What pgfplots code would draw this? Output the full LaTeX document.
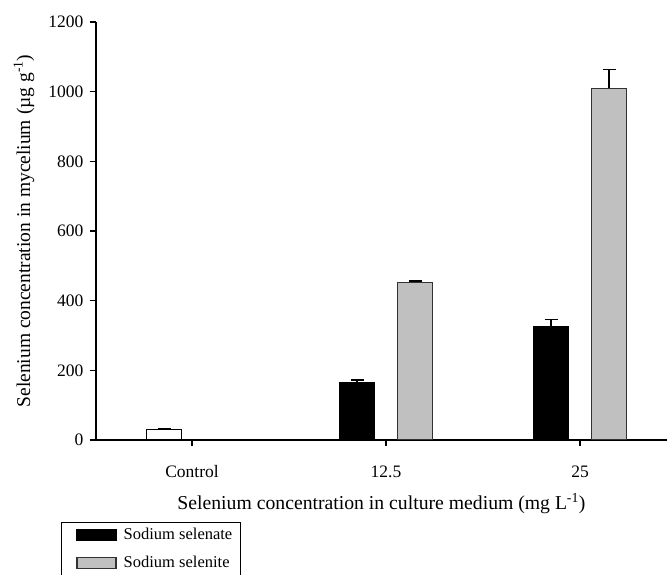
\documentclass[border=0pt]{standalone}
\usepackage{fontspec}
\setmainfont{Liberation Serif}
\usepackage{pgfplots}
\pgfplotsset{compat=1.18}
\definecolor{barGrey}{RGB}{192,192,192}
\definecolor{edgeGrey}{RGB}{50,50,50}
\begin{document}
\begin{tikzpicture}
\begin{axis}[
  scale only axis,
  width=571pt, height=418pt,
  xmin=-0.495, xmax=2.448,
  ymin=0, ymax=1200,
  ytick={0,200,400,600,800,1000,1200},
  xtick={0,1,2},
  xticklabels={Control,12.5,25},
  axis x line*=bottom,
  axis y line*=left,
  tick align=outside,
  major tick length=6pt,
  minor tick num=0,
  axis line style={line width=1.2pt, black},
  tick style={line width=1.2pt, black},
  /pgf/number format/assume math mode=true,
  /pgf/number format/1000 sep={},
  ticklabel style={font=\fontsize{17.5}{19}\selectfont},
  xticklabel style={yshift=-16pt},
  yticklabel style={xshift=-3pt},
  xlabel={Selenium concentration in culture medium (mg L\textsuperscript{-1})},
  xlabel style={font=\fontsize{19.7}{22}\selectfont, at={(axis description cs:0.5,0)}, anchor=base, yshift=-70pt},
  ylabel={Selenium concentration in mycelium (µg g\textsuperscript{-1})},
  ylabel style={font=\fontsize{19.5}{22}\selectfont, at={(axis description cs:0,0.5)}, anchor=center, yshift=72pt},
  ybar,
  bar width=35pt,
  legend image code/.code={\path (0pt,0pt) -- (0pt,0pt); \draw[#1] (9pt,-5.5pt) rectangle (48pt,5.5pt);},
  legend style={at={(axis description cs:-0.0613,-0.1962)}, anchor=north west,
    draw=black, line width=1pt, fill=white,
    inner xsep=6pt, inner ysep=4pt, row sep=11pt, column sep=5pt,
    font=\fontsize{16.5}{18}\selectfont, cells={anchor=west}},
  legend cell align=left,
  error bars/y dir=plus,
  error bars/y explicit,
  error bars/error mark options={rotate=90, mark size=6.5pt, line width=1.2pt, black},
  error bars/error bar style={line width=1.2pt, black},
]
% Control (white)
\addplot[forget plot, fill=white, draw=black, line width=1.2pt, bar shift=-28pt]
  coordinates {(0,30) +- (0,3.8)};
% Sodium selenate
\addplot[fill=black, draw=black, line width=1.2pt, bar shift=-29pt]
  coordinates {(1,165.5) +- (0,6.5) (2,325) +- (0,20)};
\addlegendentry{Sodium selenate}
% Sodium selenite
\addplot[fill=barGrey, draw=edgeGrey, line width=1.2pt, bar shift=29pt]
  coordinates {(1,452.7) +- (0,3.5) (2,1009.5) +- (0,53)};
\addlegendentry{Sodium selenite}
\end{axis}
\pgfresetboundingbox
\useasboundingbox (-96pt,-135pt) rectangle (571pt,440pt);
\end{tikzpicture}
\end{document}
